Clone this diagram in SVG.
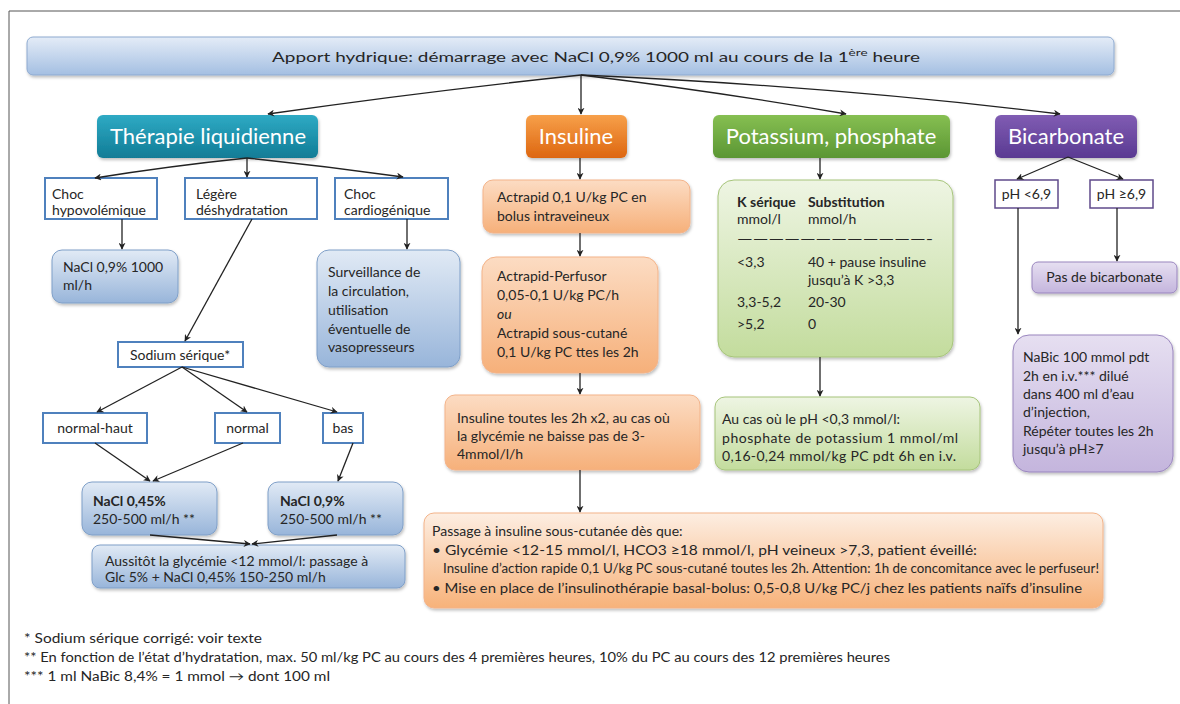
<svg xmlns="http://www.w3.org/2000/svg" width="1180" height="704" viewBox="0 0 1180 704">
<defs>
<linearGradient id="gBlue" x1="0" y1="0" x2="0" y2="1"><stop offset="0" stop-color="#e1eaf5"/><stop offset="1" stop-color="#98b5da"/></linearGradient>
<linearGradient id="gBanner" x1="0" y1="0" x2="0" y2="1"><stop offset="0" stop-color="#e4ecf7"/><stop offset="1" stop-color="#a4bfe2"/></linearGradient>
<linearGradient id="gOrange" x1="0" y1="0" x2="0" y2="1"><stop offset="0" stop-color="#fcdcc3"/><stop offset="1" stop-color="#f6b07a"/></linearGradient>
<linearGradient id="gOrange2" x1="0" y1="0" x2="0" y2="1"><stop offset="0" stop-color="#fdeee2"/><stop offset="1" stop-color="#f7b27a"/></linearGradient>
<linearGradient id="gGreen" x1="0" y1="0" x2="0" y2="1"><stop offset="0" stop-color="#eef5e3"/><stop offset="1" stop-color="#c3dc9d"/></linearGradient>
<linearGradient id="gPurple" x1="0" y1="0" x2="0" y2="1"><stop offset="0" stop-color="#e6dff1"/><stop offset="1" stop-color="#c4b5dd"/></linearGradient>
<linearGradient id="hTeal" x1="0" y1="0" x2="0" y2="1"><stop offset="0" stop-color="#2eaac4"/><stop offset="1" stop-color="#117c96"/></linearGradient>
<linearGradient id="hOrange" x1="0" y1="0" x2="0" y2="1"><stop offset="0" stop-color="#f7a04a"/><stop offset="1" stop-color="#dd6610"/></linearGradient>
<linearGradient id="hGreen" x1="0" y1="0" x2="0" y2="1"><stop offset="0" stop-color="#86bf52"/><stop offset="1" stop-color="#5b9633"/></linearGradient>
<linearGradient id="hPurple" x1="0" y1="0" x2="0" y2="1"><stop offset="0" stop-color="#805cb3"/><stop offset="1" stop-color="#5a3a92"/></linearGradient>
<filter id="sh" x="-10%" y="-10%" width="120%" height="130%"><feDropShadow dx="1" dy="2" stdDeviation="1.5" flood-color="#000" flood-opacity="0.25"/></filter>
<marker id="ah" viewBox="0 0 10 10" refX="9" refY="5" markerWidth="7" markerHeight="7" orient="auto" markerUnits="userSpaceOnUse"><path d="M0,0 L10,5 L0,10 L3,5 z" fill="#222"/></marker>
</defs>
<style>
text{font-family:Lato,"Liberation Sans",sans-serif;fill:#262626;font-size:14px}
.hd{fill:#fff;font-size:22px;text-anchor:middle}
.c{text-anchor:middle}
.b{font-weight:bold}
.box{stroke:#4f81bd;stroke-width:2;fill:#fff}
.blue{fill:url(#gBlue);stroke:#7f9fc8;stroke-width:1}
.or{fill:url(#gOrange);stroke:#f3b389;stroke-width:1}
.or2{fill:url(#gOrange2);stroke:#f3b389;stroke-width:1}
.gr{fill:url(#gGreen);stroke:#a6c47a;stroke-width:1}
.pu{fill:url(#gPurple);stroke:#9985be;stroke-width:1}
.pbox{stroke:#5f4a8b;stroke-width:1.5;fill:#fff}
.con path{fill:none;stroke:#222;stroke-width:1.3;marker-end:url(#ah)}
.fn{font-size:12.5px}
</style>
<rect width="1180" height="704" fill="#fff"/>
<path d="M9,704 L9,11 L1180,11" fill="none" stroke="#555" stroke-width="1"/>

<g id="banner"><rect x="27" y="37" width="1087" height="38" rx="6" fill="url(#gBanner)" stroke="#8eaad0" filter="url(#sh)"/>
<text x="596" y="62" class="c" font-size="16.5" textLength="648" lengthAdjust="spacingAndGlyphs">Apport hydrique: démarrage avec NaCl 0,9% 1000 ml au cours de la 1<tspan font-size="10" dy="-6">ère</tspan><tspan dy="6"> heure</tspan></text></g>

<g id="h-therapie"><rect x="97" y="115" width="221" height="43" rx="6" fill="url(#hTeal)" filter="url(#sh)"/><text x="208" y="144" class="hd">Thérapie liquidienne</text></g>
<g id="h-insuline"><rect x="526" y="115" width="101" height="43" rx="6" fill="url(#hOrange)" filter="url(#sh)"/><text x="576" y="144" class="hd">Insuline</text></g>
<g id="h-potassium"><rect x="713" y="115" width="237" height="43" rx="6" fill="url(#hGreen)" filter="url(#sh)"/><text x="831" y="144" class="hd">Potassium, phosphate</text></g>
<g id="h-bicarbonate"><rect x="995" y="115" width="142" height="43" rx="6" fill="url(#hPurple)" filter="url(#sh)"/><text x="1066" y="144" class="hd">Bicarbonate</text></g>

<g id="choc-hypo"><rect x="45" y="178" width="112" height="41" class="box"/><text x="52" y="199">Choc</text><text x="52" y="215">hypovolémique</text></g>
<g id="legere"><rect x="185" y="178" width="132" height="41" class="box"/><text x="196" y="199">Légère</text><text x="196" y="215">déshydratation</text></g>
<g id="choc-cardio"><rect x="335" y="178" width="113" height="41" class="box"/><text x="344" y="199">Choc</text><text x="344" y="215">cardiogénique</text></g>
<g id="nacl1000"><rect x="52" y="250" width="126" height="53" rx="10" class="blue" filter="url(#sh)"/><text x="63" y="272">NaCl 0,9% 1000</text><text x="63" y="290">ml/h</text></g>
<g id="surveillance"><rect x="317" y="250" width="143" height="117" rx="12" class="blue" filter="url(#sh)"/><text x="328" y="277">Surveillance de</text><text x="328" y="296">la circulation,</text><text x="328" y="315">utilisation</text><text x="328" y="334">éventuelle de</text><text x="328" y="352">vasopresseurs</text></g>
<g id="sodium"><rect x="118" y="342" width="125" height="25" class="box"/><text x="180" y="360" class="c">Sodium sérique*</text></g>
<g id="normal-haut"><rect x="43" y="413" width="104" height="30" class="box"/><text x="95" y="433" class="c">normal-haut</text></g>
<g id="normal"><rect x="215" y="413" width="65" height="30" class="box"/><text x="247.5" y="433" class="c">normal</text></g>
<g id="bas"><rect x="323" y="413" width="40" height="30" class="box"/><text x="343" y="433" class="c">bas</text></g>
<g id="nacl045"><rect x="82" y="482" width="135" height="53" rx="10" class="blue" filter="url(#sh)"/><text x="93" y="506" class="b">NaCl 0,45%</text><text x="93" y="524">250-500 ml/h **</text></g>
<g id="nacl09"><rect x="268" y="482" width="135" height="53" rx="10" class="blue" filter="url(#sh)"/><text x="280" y="506" class="b">NaCl 0,9%</text><text x="280" y="524">250-500 ml/h **</text></g>
<g id="aussitot"><rect x="92" y="545" width="313" height="43" rx="8" class="blue" filter="url(#sh)"/><text x="105" y="566">Aussitôt la glycémie &lt;12 mmol/l: passage à</text><text x="105" y="582">Glc 5% + NaCl 0,45% 150-250 ml/h</text></g>

<g id="actrapid-bolus"><rect x="483" y="180" width="207" height="53" rx="10" class="or" filter="url(#sh)"/><text x="497" y="202">Actrapid 0,1 U/kg PC en</text><text x="497" y="221">bolus intraveineux</text></g>
<g id="actrapid-perfusor"><rect x="482" y="257" width="176" height="116" rx="14" class="or" filter="url(#sh)"/><text x="497" y="281">Actrapid-Perfusor</text><text x="497" y="300">0,05-0,1 U/kg PC/h</text><text x="497" y="319" font-style="italic">ou</text><text x="497" y="338">Actrapid sous-cutané</text><text x="497" y="357">0,1 U/kg PC ttes les 2h</text></g>
<g id="insuline-2h"><rect x="445" y="395" width="255" height="75" rx="10" class="or" filter="url(#sh)"/><text x="457" y="423">Insuline toutes les  2h x2, au cas où</text><text x="457" y="441">la glycémie ne baisse pas  de 3-</text><text x="457" y="459">4mmol/l/h</text></g>
<g id="passage"><rect x="424" y="513" width="679" height="95" rx="10" class="or2" filter="url(#sh)"/>
<text x="432" y="536">Passage à insuline sous-cutanée dès que:</text>
<text x="432" y="555" textLength="545" lengthAdjust="spacingAndGlyphs">• Glycémie &lt;12-15 mmol/l, HCO3 ≥18 mmol/l, pH veineux &gt;7,3, patient éveillé:</text>
<text x="443" y="573" font-size="10.5" textLength="656" lengthAdjust="spacingAndGlyphs">Insuline d’action rapide 0,1 U/kg PC sous-cutané toutes les 2h. Attention: 1h de concomitance avec le perfuseur!</text>
<text x="432" y="593" textLength="650" lengthAdjust="spacingAndGlyphs">• Mise en place de l’insulinothérapie basal-bolus: 0,5-0,8 U/kg PC/j  chez les patients naïfs d’insuline</text></g>

<g id="k-table"><rect x="718" y="180" width="235" height="177" rx="16" class="gr" filter="url(#sh)"/>
<text x="737" y="207" class="b">K sérique</text><text x="808" y="207" class="b">Substitution</text>
<text x="737" y="224">mmol/l</text><text x="808" y="224">mmol/h</text>
<text x="737" y="244" textLength="196" lengthAdjust="spacingAndGlyphs" fill="#555">————————————-</text>
<text x="737" y="267">&lt;3,3</text><text x="808" y="267">40 + pause insuline</text>
<text x="808" y="285">jusqu’à K &gt;3,3</text>
<text x="737" y="307">3,3-5,2</text><text x="808" y="307">20-30</text>
<text x="737" y="329">&gt;5,2</text><text x="808" y="329">0</text></g>
<g id="phosphate"><rect x="715" y="397" width="265" height="73" rx="10" class="gr" filter="url(#sh)"/><text x="722" y="424">Au cas où le pH &lt;0,3 mmol/l:</text><text x="722" y="443" textLength="236" lengthAdjust="spacing">phosphate de potassium 1 mmol/ml</text><text x="722" y="461" textLength="234" lengthAdjust="spacing">0,16-0,24 mmol/kg PC pdt  6h en i.v.</text></g>

<g id="ph-low"><rect x="995" y="180" width="63" height="28" class="pbox"/><text x="1026.5" y="199" class="c">pH &lt;6,9</text></g>
<g id="ph-high"><rect x="1090" y="180" width="63" height="28" class="pbox"/><text x="1121.5" y="199" class="c">pH ≥6,9</text></g>
<g id="pas-bicarb"><rect x="1032" y="262" width="145" height="31" rx="6" class="pu" filter="url(#sh)"/><text x="1104.5" y="282" class="c">Pas de bicarbonate</text></g>
<g id="nabic"><rect x="1013" y="335" width="160" height="137" rx="16" class="pu" filter="url(#sh)"/><text x="1023" y="362">NaBic 100 mmol pdt</text><text x="1023" y="381">2h en i.v.*** dilué</text><text x="1023" y="399">dans 400 ml d’eau</text><text x="1023" y="417">d’injection,</text><text x="1023" y="436">Répéter toutes les 2h</text><text x="1023" y="454">jusqu’à pH≥7</text></g>

<g id="connectors" class="con">
<path d="M581,75 L581,114"/>
<path d="M581,75 Q420,92 268,114"/>
<path d="M581,75 Q720,92 846,114"/>
<path d="M581,75 Q830,86 1060,114"/>
<path d="M247,158 Q170,166 95,178"/>
<path d="M247,158 L247,177"/>
<path d="M247,158 Q325,166 403,177"/>
<path d="M122,219 L122,249"/>
<path d="M407,219 L407,249"/>
<path d="M252,219 L185,341"/>
<path d="M182,367 L97,412"/>
<path d="M182,367 L247,412"/>
<path d="M182,367 L337,412"/>
<path d="M95,443 L150,481"/>
<path d="M243,443 L153,481"/>
<path d="M353,443 L338,481"/>
<path d="M150,535 L250,544"/>
<path d="M337,535 L252,544"/>
<path d="M580,158 L580,179"/>
<path d="M580,233 L580,256"/>
<path d="M580,373 L580,394"/>
<path d="M580,470 L580,512"/>
<path d="M820,158 L820,179"/>
<path d="M820,357 L820,396"/>
<path d="M1068,157 L1017,179"/>
<path d="M1068,157 L1123,179"/>
<path d="M1117,208 L1117,261"/>
<path d="M1018,208 L1018,334"/>
</g>

<g id="footnotes">
<text x="24" y="643" class="fn" textLength="238" lengthAdjust="spacingAndGlyphs">* Sodium sérique corrigé: voir texte</text>
<text x="24" y="662" class="fn" textLength="866" lengthAdjust="spacingAndGlyphs">** En fonction de l’état d’hydratation, max. 50 ml/kg PC au cours des 4 premières  heures, 10% du PC au cours des 12 premières heures</text>
<text x="24" y="681" class="fn" textLength="306" lengthAdjust="spacingAndGlyphs">*** 1 ml NaBic 8,4%  = 1 mmol → dont 100 ml</text>
</g>
</svg>
